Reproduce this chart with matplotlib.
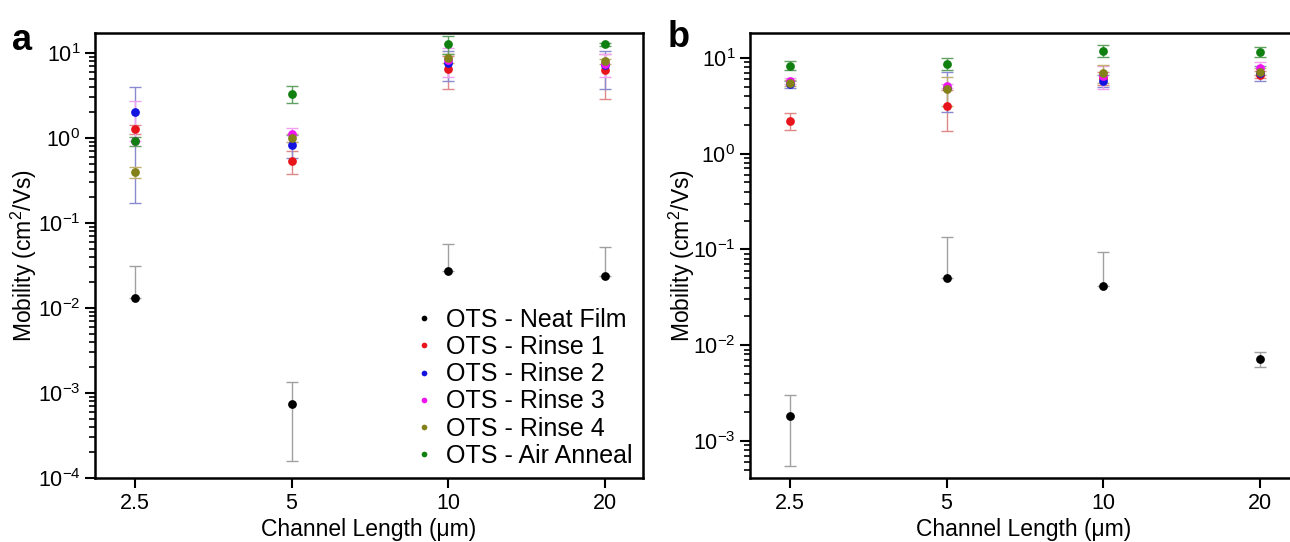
import matplotlib
matplotlib.use("Agg")
import matplotlib.pyplot as plt
import numpy as np
from matplotlib.ticker import LogLocator, LogFormatterMathtext, NullFormatter

plt.rcParams['font.family'] = ['Liberation Sans', 'DejaVu Sans']
plt.rcParams['mathtext.fontset'] = 'custom'
plt.rcParams['mathtext.rm'] = 'Liberation Sans'
plt.rcParams['mathtext.it'] = 'Liberation Sans'
plt.rcParams['mathtext.bf'] = 'Liberation Sans:bold'

channel_lengths = ["2.5", "5", "10", "20"]
series_names = ["OTS - Neat Film", "OTS - Rinse 1", "OTS - Rinse 2",
                "OTS - Rinse 3", "OTS - Rinse 4", "OTS - Air Anneal"]
colors = ["#000000", "#e8141c", "#1414e0", "#f014f0", "#84801a", "#108010"]
bar_colors = ["#a0a0a0", "#e08888", "#8a8ad0", "#f0a0f0", "#c0b070", "#60a060"]

# Panel a values
a_neat = [0.013, 7.5e-4, 0.027, 0.024]
a_neat_err = [0.018, 5.9e-4, 0.029, 0.028]
a_r1 = [1.28, 0.54, 6.5, 6.3]
a_r1_err = [0.15, 0.16, 2.7, 3.4]
a_r2 = [2.05, 0.83, 7.6, 7.2]
a_r2_err = [1.88, 0.25, 2.9, 3.4]
a_r3 = [0.92, 1.1, 8.3, 7.5]
a_r3_err = [1.78, 0.2, 3.1, 2.3]
a_r4 = [0.40, 1.0, 8.7, 8.0]
a_r4_err = [0.06, 0.1, 1.0, 0.5]
a_air = [0.92, 3.3, 12.8, 12.6]
a_air_err = [0.11, 0.75, 3.0, 0.6]

# Panel b values
b_neat = [1.8e-3, 0.050, 0.041, 0.0072]
b_neat_err = [1.25e-3, 0.085, 0.052, 0.0013]
b_r1 = [2.2, 3.17, 6.2, 6.7]
b_r1_err = [0.45, 1.43, 1.0, 0.6]
b_r2 = [5.3, 4.9, 5.8, 7.0]
b_r2_err = [0.5, 2.2, 0.8, 1.3]
b_r3 = [5.8, 5.1, 6.5, 7.9]
b_r3_err = [0.4, 0.3, 1.8, 1.2]
b_r4 = [5.5, 4.76, 7.0, 7.2]
b_r4_err = [0.4, 1.6, 1.5, 0.6]
b_air = [8.3, 8.7, 11.9, 11.6]
b_air_err = [0.9, 1.3, 1.6, 1.4]

panel_a = [(a_neat, a_neat_err), (a_r1, a_r1_err), (a_r2, a_r2_err),
           (a_r3, a_r3_err), (a_r4, a_r4_err), (a_air, a_air_err)]
panel_b = [(b_neat, b_neat_err), (b_r1, b_r1_err), (b_r2, b_r2_err),
           (b_r3, b_r3_err), (b_r4, b_r4_err), (b_air, b_air_err)]

W, H = 1290, 542
fig = plt.figure(figsize=(W / 100, H / 100), dpi=100)
axA = fig.add_axes([95 / W, (H - 478) / H, 548 / W, 445 / H])
axB = fig.add_axes([750 / W, (H - 478) / H, 548 / W, 445 / H])

x = np.arange(len(channel_lengths))


def draw(ax, data, ylim, xlim, ylab_x):
    ax.set_yscale('log')
    handles = []
    for (vals, errs), c, bc, name in zip(data, colors, bar_colors, series_names):
        v = np.array(vals, dtype=float)
        e = np.array(errs, dtype=float)
        lower = np.where(e < v, e, 0.0)
        ax.errorbar(x, v, yerr=[lower, e], fmt='none', ecolor=bc,
                    elinewidth=1.0, capsize=4, capthick=1.0, zorder=2)
        h, = ax.plot(x, v, 'o', color=c, markersize=6.3, markeredgewidth=0,
                     linestyle='none', label=name, zorder=3)
        handles.append(h)
    ax.set_xlim(*xlim)
    ax.set_ylim(*ylim)
    ax.set_xticks(x)
    ax.set_xticklabels(channel_lengths)
    ax.yaxis.set_major_locator(LogLocator(base=10, numticks=20))
    ax.yaxis.set_minor_locator(LogLocator(base=10, subs=np.arange(2, 10), numticks=20))
    ax.yaxis.set_major_formatter(LogFormatterMathtext())
    ax.yaxis.set_minor_formatter(NullFormatter())
    ax.tick_params(axis='both', which='major', direction='out', length=7,
                   width=1.5, labelsize=15.5, color='black')
    ax.tick_params(axis='y', which='minor', direction='out', length=4, width=1.2)
    ax.tick_params(axis='x', which='minor', bottom=False)
    for s in ax.spines.values():
        s.set_linewidth(1.8)
    ax.set_xlabel("Channel Length (\u03bcm)", fontsize=16.5, labelpad=3)
    ax.set_ylabel("Mobility (cm$^2$/Vs)", fontsize=16.5)
    ax.yaxis.set_label_coords(ylab_x, 0.5)
    return handles


hA = draw(axA, panel_a, (1e-4, 17.2), (-0.256, 3.246), (39 - 95) / 548)
hB = draw(axB, panel_b, (4.1e-4, 18.2), (-0.256, 3.246), (697 - 750) / 548)

axA.legend(handles=hA, loc='lower right', frameon=False, fontsize=18,
           markerscale=0.65, handletextpad=0.4, labelspacing=0.13,
           borderaxespad=0.0, handlelength=1.0)

fig.text(12 / W, 1 - 40 / H, "a", fontsize=26, fontweight='bold', va='center')
fig.text(668 / W, 1 - 38 / H, "b", fontsize=26, fontweight='bold', va='center')

fig.savefig("out.png", dpi=100)
